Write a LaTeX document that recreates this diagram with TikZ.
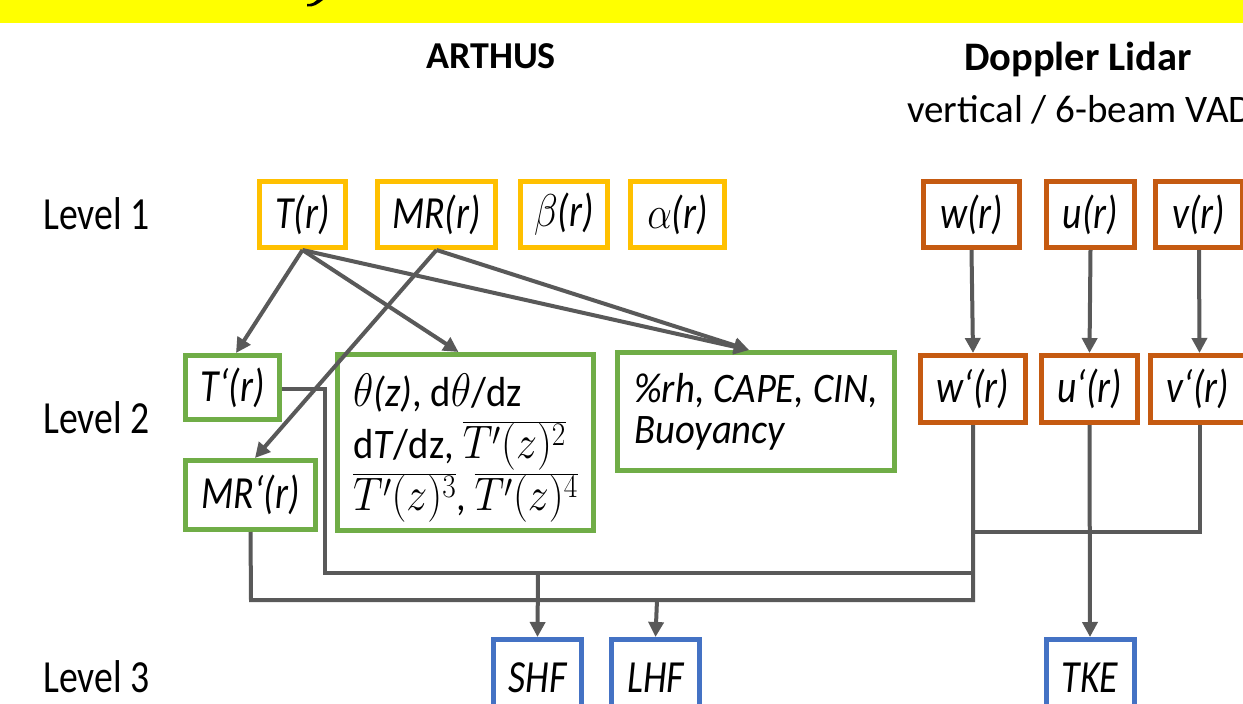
\RequirePackage{fix-cm}
\documentclass[tikz,border=0pt]{standalone}
\usepackage{graphicx}
\usepackage{fontspec}
\setmainfont{Carlito}
\newfontfamily\tallf{Carlito}[FakeStretch=0.82]
\newfontfamily\midf{Carlito}[FakeStretch=0.92]
\newcommand{\vsc}[1]{\scalebox{1}[1.12]{#1}}
\newcommand{\hsq}[1]{\scalebox{0.85}[1]{#1}}
\usetikzlibrary{arrows.meta}
\definecolor{boxY}{HTML}{FFC000}
\definecolor{boxO}{HTML}{C55A11}
\definecolor{boxG}{HTML}{70AD47}
\definecolor{boxB}{HTML}{4472C4}
\definecolor{lineG}{HTML}{595959}
\definecolor{banner}{HTML}{FFFF00}
\begin{document}
\begin{tikzpicture}[x=1pt,y=-1pt,
  bx/.style={draw, line width=5pt, fill=white, inner sep=0pt, font=\tallf\fontsize{46}{50}\selectfont\itshape},
  yb/.style={bx, draw=boxY, minimum height=66pt},
  ob/.style={bx, draw=boxO, minimum height=66pt},
  gb/.style={bx, draw=boxG},
  bb/.style={bx, draw=boxB, minimum width=88pt, minimum height=76pt},
  conn/.style={draw=lineG, line width=4pt},
  arr/.style={conn, -{Triangle[length=15pt,width=15pt]}},
  lvl/.style={anchor=base west, inner sep=0pt, font=\tallf\fontsize{46}{50}\selectfont},
  hdr/.style={anchor=base, inner sep=0pt, font=\fontsize{38}{42}\selectfont\bfseries}]
\useasboundingbox (0,0) rectangle (1243,704);
\fill[white] (0,0) rectangle (1243,704);
\fill[banner] (0,0) rectangle (1243,22.5);
\fill[black] (307,6.5) .. controls (313,7.5) and (318,4) .. (323,0) -- (317,0) .. controls (315,2.5) and (312,4) .. (307,4) -- cycle;

% headers
\node[hdr] (arthus) at (491,68) {ARTHUS};
\node[hdr, font=\fontsize{40.5}{44}\selectfont\bfseries] (doppler) at (1078,70) {Doppler Lidar};
\node[anchor=base west, inner sep=0pt, font=\fontsize{39}{42}\selectfont] (vad) at (907,122) {vertical / 6-beam VAD};
\node[lvl] (lev1) at (43,229) {Level 1};
\node[lvl] (lev2) at (43,433) {Level 2};
\node[lvl] (lev3) at (43,692) {Level 3};

% level 1
\node[yb, minimum width=86pt] (T) at (302.5,214.5) {T(r)};
\node[yb, minimum width=118pt] (MR) at (436.5,214.5) {MR(r)};
\node[yb, minimum width=87pt] (beta) at (564,214.5) {\hsq{$\beta$}(r)};
\node[yb, minimum width=94pt] (alpha) at (677.5,214.5) {\hsq{$\alpha$}(r)};
\node[ob, minimum width=96pt] (w) at (971.5,214.5) {w(r)};
\node[ob, minimum width=88pt] (u) at (1090.5,214.5) {u(r)};
\node[ob, minimum width=87pt] (v) at (1199,214.5) {v(r)};

% level 2
\node[gb, minimum width=94pt, minimum height=64pt] (Tp) at (232.5,387.5) {T‘(r)};
\node[gb, minimum width=130pt, minimum height=69pt] (MRp) at (250.5,495) {MR‘(r)};
\node[gb, minimum width=256pt, minimum height=176pt, align=left,
      font=\midf\fontsize{42}{52}\selectfont] (stat) at (465.5,442.5)
  {\rule{0pt}{44pt}\vsc{$\theta$}\textit{(z)}, d\vsc{$\theta$}/dz\\ d\textit{T}/dz, \vsc{$\overline{T'(z)^2}$}\\ \vsc{$\overline{T'(z)^3}$}, \vsc{$\overline{T'(z)^4}$}};
\node[gb, minimum width=277pt, minimum height=118pt, align=left,
      font=\midf\fontsize{42}{41}\selectfont\itshape] (rh) at (756,411.5)
  {\%rh, CAPE, CIN,\\ Buoyancy};
\node[ob, minimum width=105pt, minimum height=67pt] (wp) at (973,389) {w‘(r)};
\node[ob, minimum width=96pt, minimum height=67pt] (up) at (1089.5,389) {u‘(r)};
\node[ob, minimum width=96pt, minimum height=67pt] (vp) at (1198,389) {v‘(r)};

% level 3
\node[bb] (SHF) at (537.5,677.5) {SHF};
\node[bb] (LHF) at (655.5,677.5) {LHF};
\node[bb] (TKE) at (1090,677.5) {TKE};

% coordinates for elbows
\coordinate (tpj) at (325,389);
\coordinate (tpd) at (325,573);
\coordinate (wj1) at (973,573);
\coordinate (wj2) at (973,600);
\coordinate (mrd) at (251,600);
\coordinate (wuv) at (973,532);
\coordinate (vj) at (1200,532);
\coordinate (shfj) at (538,573);
\coordinate (lhfj) at (657,600);

% level 1 -> level 2
\draw[arr] (T.south) -- ([xshift=3.5pt]Tp.north);
\draw[arr] (T.south) -- ([xshift=-7pt]stat.north);
\draw[arr] (T.south) -- ([xshift=-7pt]rh.north);
\draw[arr] (MR.south) -- ([xshift=-7pt]rh.north);
\draw[arr] (MR.south) -- ([xshift=4.5pt]MRp.north);
\draw[arr] (w.south) -- (wp.north);
\draw[arr] (u.south) -- (up.north);
\draw[arr] (v.south) -- ([xshift=1.5pt]vp.north);

% level 2 -> level 3
\draw[conn] (Tp.east |- tpj) -- (tpj) -- (tpd) -- (wj1);
\draw[conn] (MRp.south) -- (mrd) -- (wj2) -- (wp.south);
\draw[conn] ([xshift=2pt]vp.south) -- (vj) -- (wuv);
\draw[arr] (up.south) -- (TKE.north);
\draw[arr] (shfj) -- (SHF.north);
\draw[arr] (lhfj) -- (LHF.north);
\end{tikzpicture}
\end{document}
